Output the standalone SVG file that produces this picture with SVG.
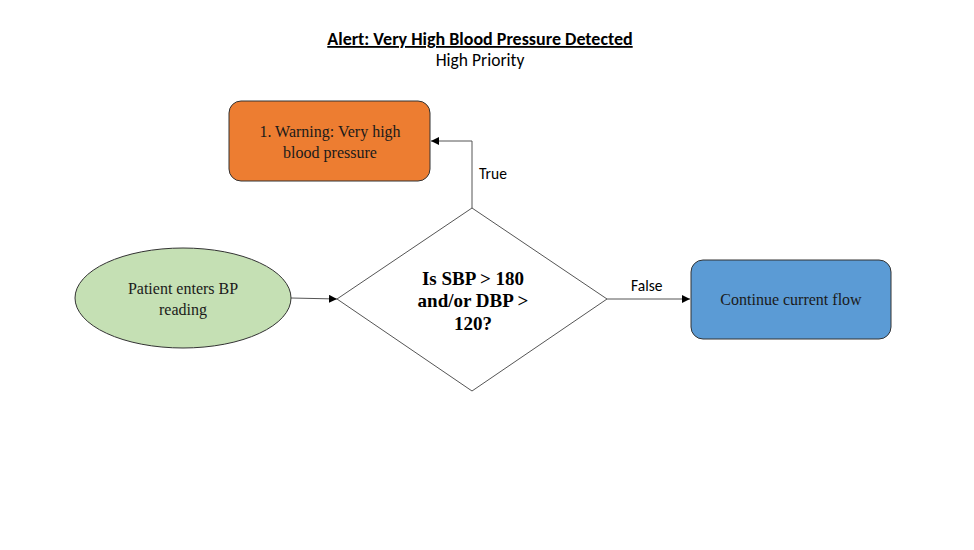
<svg xmlns="http://www.w3.org/2000/svg" width="974" height="550" viewBox="0 0 974 550">
<style>
.title{font-family:"Carlito","Liberation Sans",Arial,sans-serif;font-size:18px;font-weight:bold;text-decoration:underline;fill:#000}
.sub{font-family:"Carlito","Liberation Sans",Arial,sans-serif;font-size:17.5px;fill:#000}
.lbl{font-family:"Carlito","Liberation Sans",Arial,sans-serif;font-size:15.5px;fill:#000}
.node{font-family:"Liberation Serif","Times New Roman",serif;font-size:16px;fill:#1a1a1a}
.dec{font-family:"Liberation Serif","Times New Roman",serif;font-size:19px;font-weight:bold;fill:#000}
.edge{fill:none;stroke:#555;stroke-width:1}
</style>
<defs>
<marker id="arr" viewBox="0 0 10 10" refX="10" refY="5" markerWidth="8" markerHeight="8" markerUnits="userSpaceOnUse" orient="auto">
<path d="M0,0 L10,5 L0,10 z" fill="#000"/>
</marker>
</defs>
<rect width="974" height="550" fill="#fff"/>
<text class="title" x="480" y="45" text-anchor="middle">Alert: Very High Blood Pressure Detected</text>
<text class="sub" x="480" y="66" text-anchor="middle">High Priority</text>
<g id="connectors">
<path class="edge" d="M472,208 V141 H431" marker-end="url(#arr)"/>
<path class="edge" d="M291,298 L337,299" marker-end="url(#arr)"/>
<path class="edge" d="M607,299 H690" marker-end="url(#arr)"/>
<text class="lbl" x="479" y="179">True</text>
<text class="lbl" x="631" y="291">False</text>
</g>
<g id="warning">
<rect x="229" y="101" width="201" height="80" rx="12" fill="#ED7D31" stroke="#333" stroke-width="1"/>
<text class="node" x="330" y="137" text-anchor="middle">1. Warning:  Very high</text>
<text class="node" x="330" y="158" text-anchor="middle">blood pressure</text>
</g>
<g id="start">
<ellipse cx="183" cy="298" rx="108" ry="50" fill="#C5E0B4" stroke="#333" stroke-width="1"/>
<text class="node" x="183" y="294" text-anchor="middle">Patient enters BP</text>
<text class="node" x="183" y="315" text-anchor="middle">reading</text>
</g>
<g id="decision">
<polygon points="337,299 472,208 607,299 472,391" fill="#fff" stroke="#555" stroke-width="1"/>
<text class="dec" x="473" y="285" text-anchor="middle">Is SBP &gt; 180</text>
<text class="dec" x="473" y="307" text-anchor="middle">and/or DBP &gt;</text>
<text class="dec" x="473" y="330" text-anchor="middle">120?</text>
</g>
<g id="continue">
<rect x="691" y="260" width="200" height="79" rx="12" fill="#5B9BD5" stroke="#333" stroke-width="1"/>
<text class="node" x="791" y="305" text-anchor="middle">Continue current flow</text>
</g>
</svg>
